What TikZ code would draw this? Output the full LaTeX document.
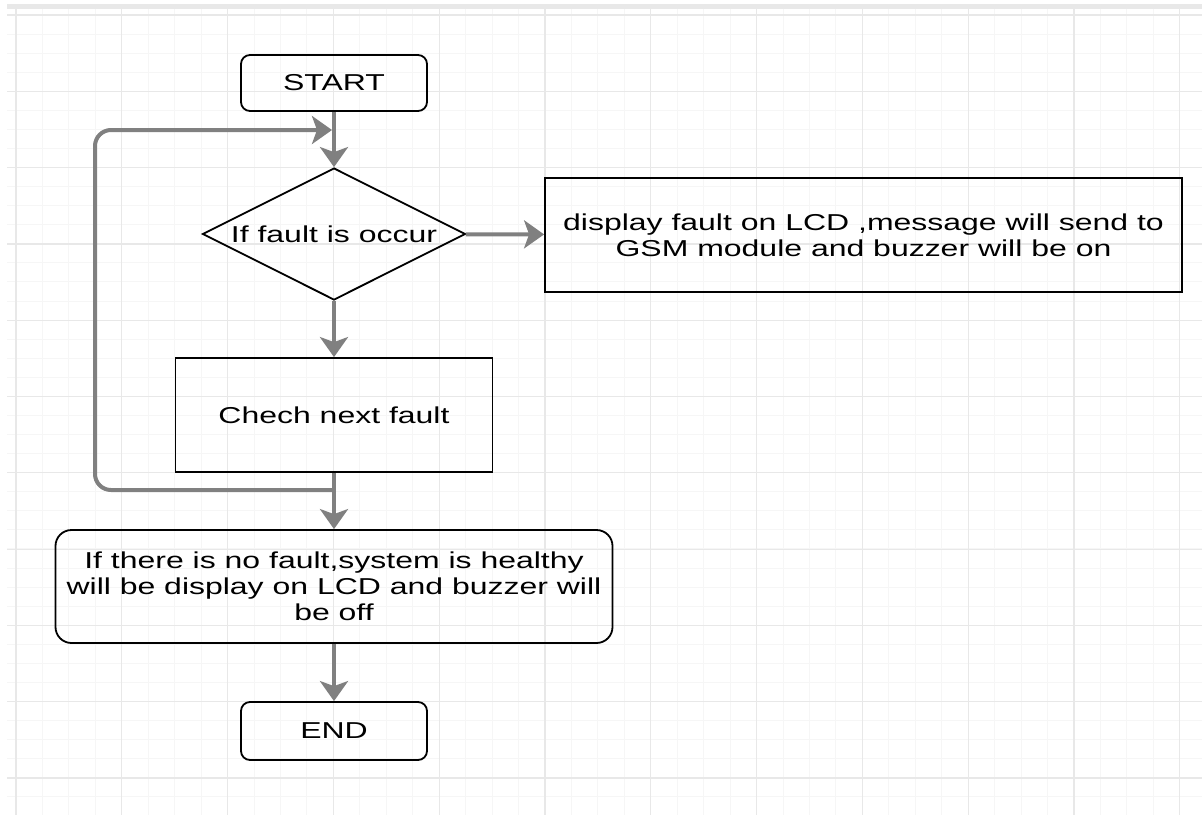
\documentclass[tikz,border=0pt]{standalone}
\usepackage{fontspec}
\setmainfont{Liberation Sans}[FakeStretch=1.39]
\usetikzlibrary{arrows.meta,shapes.geometric}

\definecolor{flowgray}{HTML}{808080}
\definecolor{minorgrid}{HTML}{F6F6F6}
\definecolor{majorgrid}{HTML}{E8E8E8}

\tikzset{
  every node/.style={font=\fontsize{23}{26}\selectfont, align=center, inner sep=0pt},
  term/.style={draw, line width=1.8pt, rounded corners=9pt, minimum width=186pt, minimum height=56pt},
  proc/.style={draw, line width=1.8pt, minimum height=114pt},
  decision/.style={draw, line width=1.8pt, diamond, aspect=2, minimum width=263pt, minimum height=132pt},
  flow/.style={draw=flowgray, line width=4pt, -{Stealth[length=20pt,width=28pt,inset=5pt]}},
}

\begin{document}
\begin{tikzpicture}[x=1pt,y=-1pt]
    \useasboundingbox (0,0) rectangle (1202,815);
    % grid background
    \fill[white] (0,0) rectangle (1202,815);
    \foreach \i in {0,...,44} \draw[minorgrid,line width=1pt] ({16+26.45*\i},9)--({16+26.45*\i},815);
    \foreach \j in {0,...,41} \draw[minorgrid,line width=1pt] (7,{15+19.07*\j})--(1202,{15+19.07*\j});
    \foreach \i in {0,...,11} \draw[majorgrid,line width=1.2pt] ({16+105.8*\i},9)--({16+105.8*\i},815);
    \foreach \j in {0,...,10} \draw[majorgrid,line width=1.2pt] (7,{15+76.3*\j})--(1202,{15+76.3*\j});
    \fill[majorgrid] (7,4) rectangle (1202,9);

    % boxes
    \node[term] (start) at (334,83) {START};
    \node[decision] (fault) at (334,234) {If fault is occur};
    \node[proc, minimum width=637pt] (alarm) at (863.5,235) {display fault on LCD ,message will send to\\GSM module and buzzer will be on};
    \node[proc, minimum width=317pt] (check) at (334,415) {Chech next fault};
    \node[term, rounded corners=16pt, minimum width=557pt, minimum height=113pt] (healthy) at (334,586.5)
      {If there is no fault,system is healthy\\will be display on LCD and buzzer will\\be off};
    \node[term, minimum height=58pt] (finish) at (334,731) {END};

    % connectors
    \draw[flow] (start) -- (fault);
    \draw[flow] (fault) -- (alarm);
    \draw[flow] (fault) -- (check);
    \draw[flow] (check) -- (healthy);
    \draw[flow] (healthy) -- (finish);
    \coordinate (split) at (334,490);
    \coordinate (merge) at (332,130);
    \draw[flow, rounded corners=16pt] (split) -- (95,490) -- (95,130) -- (merge);
\end{tikzpicture}
\end{document}
